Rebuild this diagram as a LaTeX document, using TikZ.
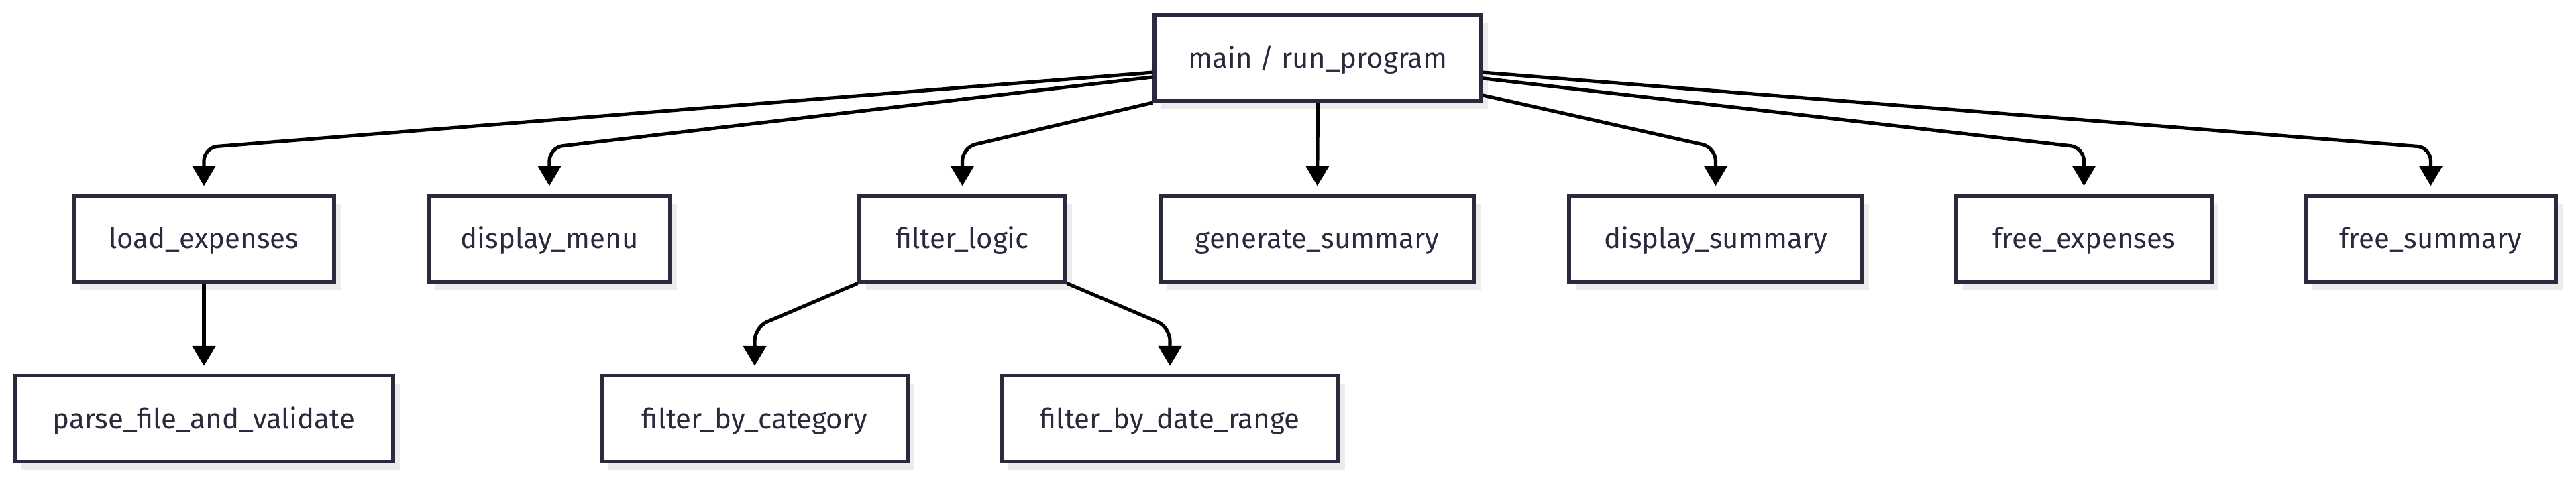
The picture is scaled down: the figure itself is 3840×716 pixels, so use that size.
\documentclass[tikz,border=0pt]{standalone}
\usepackage{fontspec}
\setmainfont{Fira Sans}
\usetikzlibrary{arrows.meta,shadows}
\definecolor{boxline}{RGB}{42,42,62}
\definecolor{shadowgray}{RGB}{236,236,236}

\begin{document}
\begin{tikzpicture}[
            x=0.25pt, y=-0.25pt,
            fn/.style={rectangle, draw=boxline, line width=1.3pt, fill=white, text=boxline,
                minimum height=32pt, inner sep=0pt, font=\fontsize{10.5}{12}\selectfont,
                text height=8.2pt, text depth=0.8pt,
                drop shadow={shadow xshift=2.5pt, shadow yshift=-3pt, fill=shadowgray, opacity=1}},
            call/.style={line width=1.3pt, black, rounded corners=5pt, shorten >=3pt,
                -{Triangle[length=7.5pt, width=8.5pt]}},
        ]
            \useasboundingbox[fill=white] (0,0) rectangle (3840,716);

            % entry point
            \node[fn, minimum width=121.75pt] (main) at (1964.5, 86.5) {main / run\_program};

            % functions called from main
            \node[fn, minimum width=97pt]     (load) at (304, 356)    {load\_expenses};
            \node[fn, minimum width=90pt]     (menu) at (819, 356)    {display\_menu};
            \node[fn, minimum width=76.75pt]  (filt) at (1434.5, 356) {filter\_logic};
            \node[fn, minimum width=116.75pt] (gen)  at (1963.5, 356) {generate\_summary};
            \node[fn, minimum width=109.25pt] (dsum) at (2557.5, 356) {display\_summary};
            \node[fn, minimum width=95.25pt]  (fexp) at (3106.5, 356) {free\_expenses};
            \node[fn, minimum width=93.25pt]  (fsum) at (3623.5, 356) {free\_summary};

            % helpers one level down
            \node[fn, minimum width=141pt]    (parse) at (304, 624.5)  {parse\_file\_and\_validate};
            \node[fn, minimum width=114pt]    (fcat)  at (1125, 624.5) {filter\_by\_category};
            \node[fn, minimum width=125.5pt]  (fdate) at (1744, 624.5) {filter\_by\_date\_range};

            % calls from main
            \draw[call] ([yshift=-5.4pt]main.west) -- (load.north |- 0,220) -- (load.north);
            \draw[call] ([yshift=-7.1pt]main.west) -- (menu.north |- 0,220) -- (menu.north);
            \draw[call] (main.south west) -- (filt.north |- 0,220) -- (filt.north);
            \draw[call] (main.south) -- (gen.north);
            \draw[call] ([yshift=-13.9pt]main.east) -- (dsum.north |- 0,220) -- (dsum.north);
            \draw[call] ([yshift=-7.6pt]main.east) -- (fexp.north |- 0,220) -- (fexp.north);
            \draw[call] ([yshift=-5.4pt]main.east) -- (fsum.north |- 0,220) -- (fsum.north);

            % nested calls
            \draw[call] (load.south) -- (parse.north);
            \draw[call] (filt.south west) -- (fcat.north |- 0,488) -- (fcat.north);
            \draw[call] (filt.south east) -- (fdate.north |- 0,488) -- (fdate.north);
        \end{tikzpicture}
\end{document}
